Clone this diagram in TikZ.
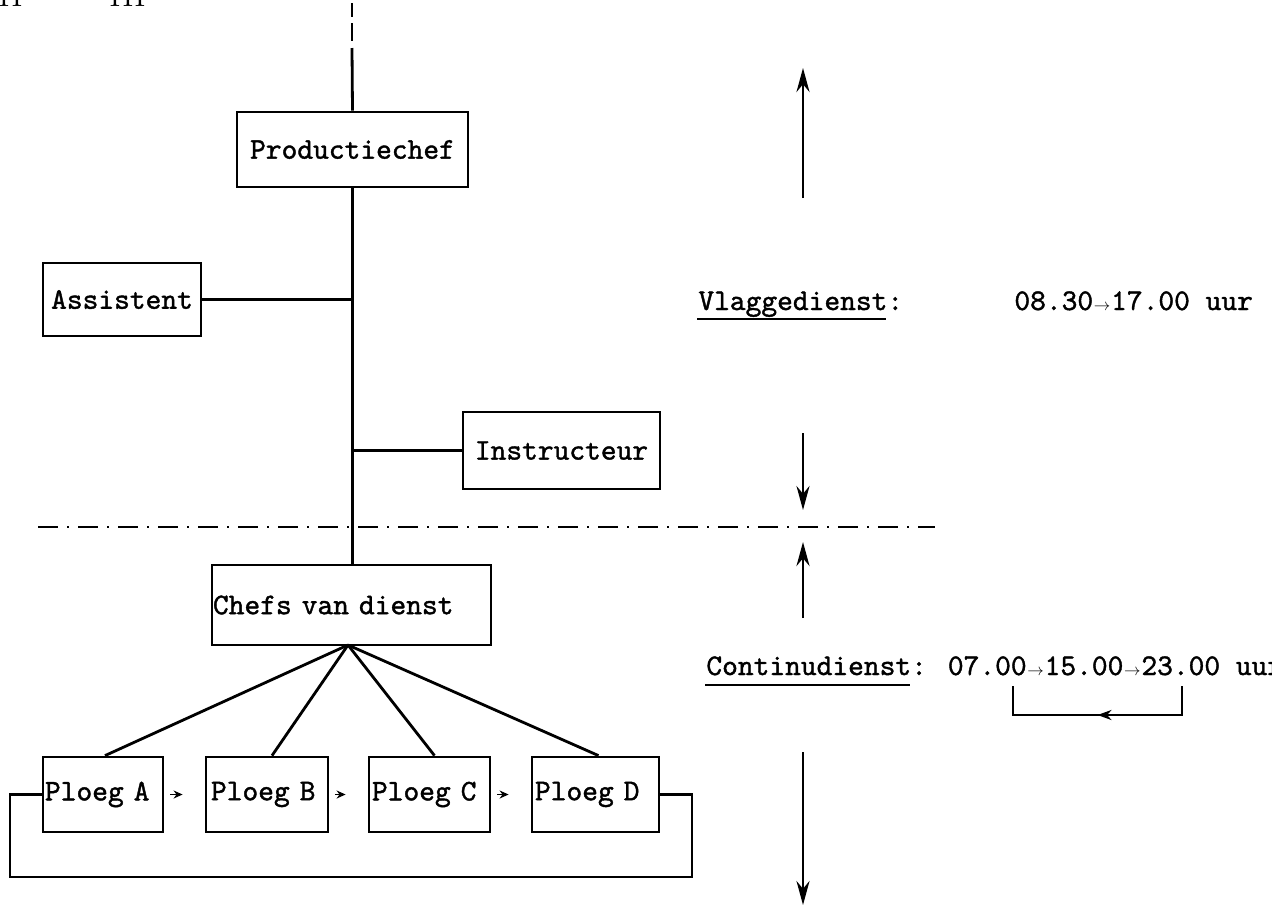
\documentclass[tikz,border=0pt]{standalone}
\usepackage{fontspec}
\usepackage{graphicx}
\newfontfamily\twr{lmmono10-regular.otf}[FakeBold=1.3]
\usetikzlibrary{arrows.meta,decorations.markings}
\newcommand{\tarr}{\makebox[0.6em]{\resizebox{0.55em}{!}{$\rightarrow$}}}
\begin{document}
\begin{tikzpicture}[x=1pt,y=-1pt,line width=2.8pt,
  tt/.style={font=\fontsize{30}{36}\selectfont\twr},
  box/.style={tt,draw,line width=2.8pt,inner sep=0pt},
  lbox/.style={box,align=left},
  lbl/.style={tt,inner sep=0pt,anchor=base west},
  vert/.style={-{Stealth[length=24pt,width=13pt]}},
  small/.style={-{Stealth[length=9pt,width=8pt]},line width=1.8pt},
  dashdot/.style={dash pattern=on 20pt off 9pt on 2pt off 9pt}]
\useasboundingbox (0,0) rectangle (1272,906);

% cut roman numerals at top
\node[font=\fontsize{36}{40}\selectfont,inner sep=0pt,anchor=base west] (rn2) at (-3,6) {II};
\node[font=\fontsize{36}{40}\selectfont,inner sep=0pt,anchor=base west] (rn3) at (108,6) {III};

% boxes
\node[box,minimum width=231pt,minimum height=75pt] (prod) at (352.5,149.5) {Productiechef};
\node[box,minimum width=158pt,minimum height=73pt] (assist) at (122,299.5) {Assistent};
\node[box,minimum width=197pt,minimum height=77pt] (instr) at (561.5,450.5) {Instructeur};
\node[lbox,inner xsep=1pt,text width=277pt,minimum height=80pt] (chefs) at (351.5,605) {Chefs van dienst};
\node[lbox,inner xsep=2pt,text width=116pt,minimum height=75pt] (pa) at (103,794.5) {Ploeg A};
\node[lbox,inner xsep=5pt,text width=112pt,minimum height=75pt] (pb) at (267,794.5) {Ploeg B};
\node[lbox,inner xsep=3pt,text width=115pt,minimum height=75pt] (pc) at (429.5,794.5) {Ploeg C};
\node[lbox,inner xsep=3pt,text width=121pt,minimum height=75pt] (pd) at (595.5,794.5) {Ploeg D};

% vertical spine
\coordinate (top) at (352,3);
\coordinate (topsolid) at (352,48);
\draw[dash pattern=on 14pt off 6pt on 18pt off 8pt] (top) -- (topsolid);
\draw (topsolid) -- (prod.north);
\draw (prod.south) -- (chefs.north -| prod.south);
\draw (assist.east) -- (assist.east -| prod.south);
\draw (instr.west) -- (instr.west -| prod.south);

% fan to ploegen
\coordinate (apex) at (348,645);
\draw (apex) -- ([xshift=2pt]pa.north);
\draw (apex) -- ([xshift=5pt]pb.north);
\draw (apex) -- ([xshift=5pt]pc.north);
\draw (apex) -- ([xshift=3pt]pd.north);

% small arrows between ploegen
\draw[small,shorten <=6pt,shorten >=22pt] (pa.east) -- (pb.west);
\draw[small,shorten <=6pt,shorten >=22pt] (pb.east) -- (pc.west);
\draw[small,shorten <=6pt,shorten >=22pt] (pc.east) -- (pd.west);

% loop
\coordinate (loopbl) at (10,877);
\coordinate (loopbr) at (692,877);
\draw (pa.west) -| (loopbl) -- (loopbr) |- (pd.east);

% dash-dot separator
\coordinate (dl) at (38,527);
\coordinate (dr) at (935,527);
\draw[dashdot] (dl) -- (dr);

% right arrows
\coordinate (a1s) at (803,198); \coordinate (a1e) at (803,68);
\coordinate (a2s) at (803,433); \coordinate (a2e) at (803,510);
\coordinate (a3s) at (803,618); \coordinate (a3e) at (803,542);
\coordinate (a4s) at (803,752); \coordinate (a4e) at (803,905);
\draw[vert] (a1s) -- (a1e);
\draw[vert] (a2s) -- (a2e);
\draw[vert] (a3s) -- (a3e);
\draw[vert] (a4s) -- (a4e);

% texts
\node[lbl] (vlag) at (697,310) {Vlaggedienst:};
\coordinate (vu1) at (697,319);
\coordinate (vu2) at (886,319);
\draw (vu1) -- (vu2);
\node[lbl] (vtime) at (1013,310) {08.30\tarr17.00 uur};
\node[lbl] (cont) at (705,675) {Continudienst: 07.00\tarr15.00\tarr23.00 uur};
\coordinate (cu1) at (705,685);
\coordinate (cu2) at (910,685);
\draw (cu1) -- (cu2);

% return bracket
\coordinate (br1) at (1182,686);
\coordinate (br2) at (1182,715);
\coordinate (br3) at (1013,715);
\coordinate (br4) at (1013,686);
\draw[decoration={markings,mark=at position 0.5 with {\arrow{Stealth[length=14pt,width=10pt]}}},postaction={decorate}]
  (br1) -- (br2) -- (br3) -- (br4);
\end{tikzpicture}
\end{document}
